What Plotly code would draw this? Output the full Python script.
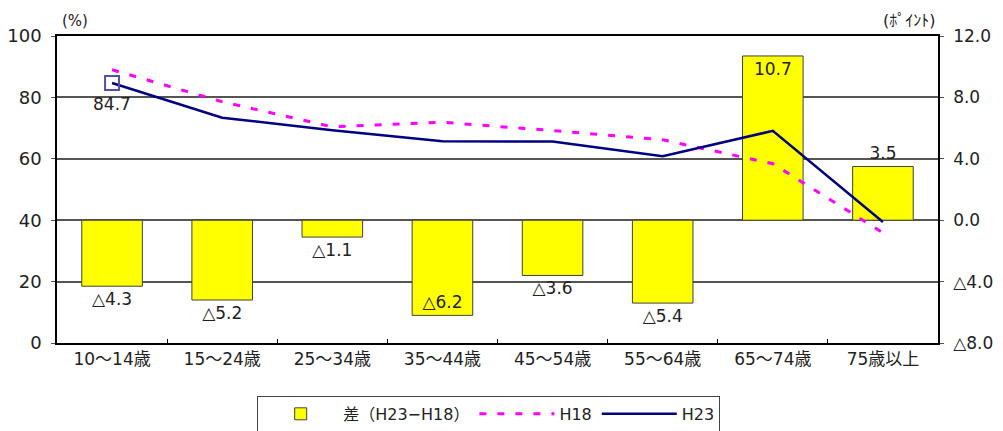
import plotly.graph_objects as go

# categorias (faixa etaria)
categorias = ["10～14歳", "15～24歳", "25～34歳", "35～44歳",
              "45～54歳", "55～64歳", "65～74歳", "75歳以上"]

# diferenca H23-H18 (pontos)
diferenca = [-4.3, -5.2, -1.1, -6.2, -3.6, -5.4, 10.7, 3.5]
rotulos_dif = ["△4.3", "△5.2", "△1.1", "△6.2", "△3.6", "△5.4", "10.7", "3.5"]
pos_rotulos = ["outside", "outside", "outside", "inside",
               "outside", "outside", "inside", "outside"]

# taxas (%)
h18 = [89.0, 78.6, 70.4, 71.9, 69.2, 66.2, 58.4, 35.9]
h23 = [84.7, 73.4, 69.3, 65.7, 65.6, 60.8, 69.1, 39.4]

# eixo direito
ticks_dir = [12, 8, 4, 0, -4, -8]
ticks_dir_txt = ["12.0", "8.0", "4.0", "0.0", "△4.0", "△8.0"]

FONTE = "DejaVu Sans, Noto Sans CJK JP, sans-serif"
COR_TXT = "#222222"

fig = go.Figure()

fig.add_trace(
    go.Bar(
        x=categorias,
        y=diferenca,
        name="差（H23−H18）",
        marker={"color": "#FFFF00", "line": {"color": "#404040", "width": 1}},
        text=rotulos_dif,
        textposition=pos_rotulos,
        insidetextanchor="end",
        textfont={"size": 17, "color": COR_TXT},
        cliponaxis=False,
        yaxis="y",
    )
)
fig.add_trace(
    go.Scatter(
        x=categorias,
        y=h18,
        mode="lines",
        name="H18",
        line={"color": "#FF00FF", "width": 3, "dash": "7px,11px"},
        yaxis="y2",
    )
)
fig.add_trace(
    go.Scatter(
        x=categorias,
        y=h23,
        mode="lines",
        name="H23",
        line={"color": "#000080", "width": 2.5},
        yaxis="y2",
    )
)
fig.add_trace(
    go.Scatter(
        x=categorias[:1],
        y=h23[:1],
        mode="markers",
        marker={"symbol": "square-open", "size": 14,
                "color": "#5050B0", "line": {"width": 2}},
        showlegend=False,
        yaxis="y2",
        cliponaxis=False,
    )
)

# a pagina tem 8px de margem no body
fig.update_layout(
    width=1003,
    height=431,
    margin={"l": 49, "r": 73, "t": 28, "b": 96},
    paper_bgcolor="white",
    plot_bgcolor="white",
    font={"family": FONTE, "size": 16, "color": COR_TXT},
    bargap=0.45,
    xaxis={
        "showline": True,
        "linecolor": "black",
        "linewidth": 1.5,
        "mirror": True,
        "ticks": "inside",
        "tickson": "boundaries",
        "ticklen": 4,
        "tickcolor": "black",
        "tickfont": {"size": 17},
        "automargin": False,
    },
    yaxis={
        "side": "right",
        "range": [-8, 12],
        "tickvals": ticks_dir,
        "ticktext": ticks_dir_txt,
        "showgrid": True,
        "gridcolor": "#555555",
        "gridwidth": 1.5,
        "zeroline": True,
        "zerolinecolor": "#555555",
        "zerolinewidth": 1.5,
        "showline": True,
        "linecolor": "black",
        "linewidth": 1.5,
        "ticks": "outside",
        "ticklen": 4,
        "tickcolor": "#555555",
        "tickfont": {"size": 17},
        "ticklabelstandoff": 6,
        "automargin": False,
    },
    yaxis2={
        "overlaying": "y",
        "side": "left",
        "range": [0, 100],
        "dtick": 20,
        "showgrid": False,
        "zeroline": False,
        "showline": True,
        "linecolor": "black",
        "linewidth": 1.5,
        "ticks": "outside",
        "ticklen": 4,
        "tickcolor": "#555555",
        "tickfont": {"size": 18},
        "ticklabelstandoff": 6,
        "automargin": False,
    },
    legend={
        "orientation": "h",
        "x": 0.49,
        "xanchor": "center",
        "yref": "container",
        "y": 0.1,
        "yanchor": "top",
        "bordercolor": "#444444",
        "borderwidth": 1,
        "font": {"size": 16},
        "traceorder": "normal",
        "itemwidth": 75,
    },
    annotations=[
        {"text": "(%)", "xref": "paper", "yref": "paper", "x": 0.0, "y": 1.0,
         "xanchor": "left", "yanchor": "bottom", "yshift": 4, "xshift": 3,
         "showarrow": False, "font": {"size": 15}},
        {"text": "(ﾎﾟｲﾝﾄ)", "xref": "paper", "yref": "paper", "x": 1.0, "y": 1.0,
         "xanchor": "right", "yanchor": "bottom", "yshift": 4,
         "showarrow": False, "font": {"size": 16}},
        {"text": f"{h23[0]:.1f}", "xref": "x", "yref": "y2",
         "x": categorias[0], "y": h23[0], "yshift": -21,
         "showarrow": False, "font": {"size": 17}},
    ],
)

fig.write_html("out.html")
